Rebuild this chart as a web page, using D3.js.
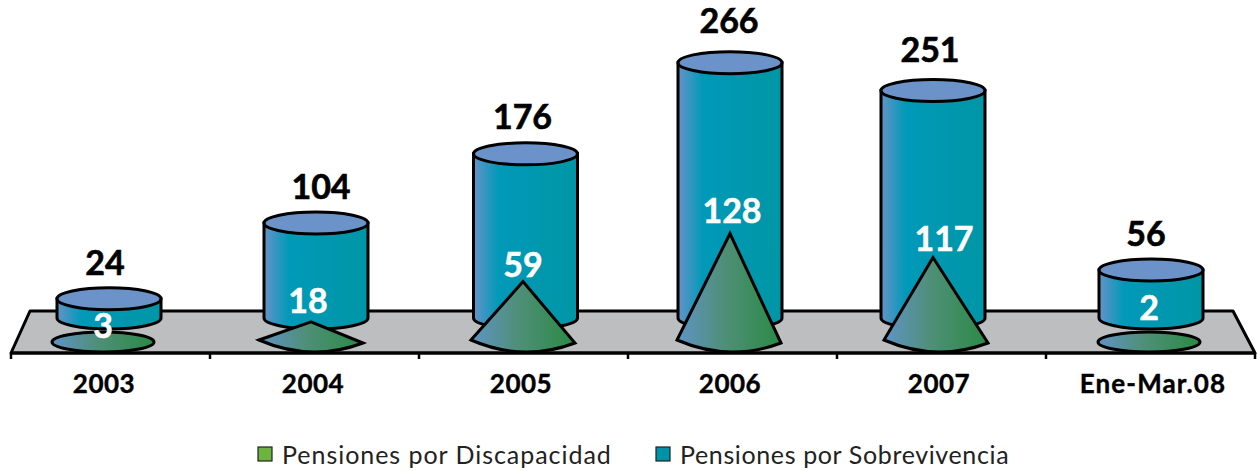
<!DOCTYPE html>
<html><head><meta charset="utf-8">
<script src="https://cdn.jsdelivr.net/npm/d3@7"></script>
<style>html,body{margin:0;padding:0;background:#fff}svg{display:block}text{font-family:Lato,sans-serif}</style>
</head><body><svg id="c" width="1258" height="471"></svg>
<script>
const categories = ["2003","2004","2005","2006","2007","Ene-Mar.08"];
// Printed labels of the reference.
const sobrevivenciaValues = [24,104,176,266,251,56];
const discapacidadValues = [3,18,59,128,117,2];
// The reference's drawn heights are not proportional to its printed labels,
// so drawn levels are read separately off the picture, in chart units.
const sobrevivenciaDrawn = [20,99,171,266,237,50];
const discapacidadDrawn = [0,21,63,113,88,0];
const legendNames = ["Pensiones por Discapacidad","Pensiones por Sobrevivencia"];

// Layout
const W=1258,H=471;
const front=353, back=311, baseCone=342, depth=24;
const rx=52, ryTop=11, coneHalf=52;
const barNudge=[3.5,1.5,2,-2.5,-8.5,0.5];
const coneNudge=[-2.5,-3.5,-0.5,-3.5,-5.5,-1.5];
const tipShift=[0,0,0,1,-3,0];
const catNudge=[-1.5,-1.5,-2.5,-2.5,-2.5,2.5];
const catSpacing=[0.5,0.5,0.5,0.5,0.5,1.1];
const blackNudge=[{x:-4,y:0},{x:5,y:0},{x:-3,y:-1},{x:-1,y:-6},{x:-3,y:-4},{x:-5,y:0}];
const whiteNudge=[{x:0,y:-4},{x:-3,y:-9},{x:0,y:-5},{x:3,y:-11},{x:8,y:-7},{x:0,y:-22}];
const legendX=[258,656], legendSpacing=[0.96,0.63];

const svg=d3.select("#c");
const x=d3.scaleBand().domain(categories).range([1,1255]).padding(0);
const y=d3.scaleLinear().domain([0,300]).range([baseCone,baseCone-288]);
const color=d3.scaleOrdinal().domain(legendNames).range(["#6cb33f","#0093a8"]);
const idx=c=>categories.indexOf(c);
const cxBar=c=>x(c)+x.bandwidth()/2+barNudge[idx(c)];
const cxCone=c=>x(c)+x.bandwidth()/2+coneNudge[idx(c)];

const defs=svg.append("defs");
const g1=defs.append("linearGradient").attr("id","gCyl");
[[0,"#6593c8"],[0.24,"#0099b8"],[1,"#0096a6"]].forEach(([o,c])=>g1.append("stop").attr("offset",o).attr("stop-color",c));
const g2=defs.append("linearGradient").attr("id","gCone");
[[0,"#5f94c6"],[0.45,"#4f8f78"],[1,"#2a8a45"]].forEach(([o,c])=>g2.append("stop").attr("offset",o).attr("stop-color",c));

// Floor
svg.append("path")
  .attr("d",d3.line()([[11,front],[30,back],[1233,back],[1255,front]])+"Z")
  .attr("fill","#bdbec0").attr("stroke","#000").attr("stroke-width",3).attr("stroke-linejoin","round");

// Axis
const axis=svg.append("g").attr("transform",`translate(0,${front})`)
  .call(d3.axisBottom(x).tickSize(0).tickPadding(22));
axis.select(".domain").remove();
axis.selectAll("text")
  .attr("font-family","Lato,sans-serif").attr("font-size",26).attr("font-weight",700).attr("fill","#000")
  .attr("stroke","#000").attr("stroke-width",0.4)
  .attr("letter-spacing",d=>catSpacing[idx(d)])
  .attr("dx",(d)=>catNudge[idx(d)]);
svg.append("line").attr("x1",11).attr("x2",1255).attr("y1",front).attr("y2",front).attr("stroke","#000").attr("stroke-width",3);
svg.selectAll(".tk").data(categories.concat(["end"])).join("line").attr("class","tk")
  .attr("x1",(d,i)=>i===0?11:(d==="end"?1255:x(d)))
  .attr("x2",(d,i)=>i===0?11:(d==="end"?1255:x(d)))
  .attr("y1",front).attr("y2",front+6).attr("stroke","#000").attr("stroke-width",2.5);

// Cylinders
const cyl=svg.append("g").selectAll("g").data(categories).join("g");
cyl.append("path").attr("d",(c,i)=>{
  const cx=cxBar(c),top=y(sobrevivenciaDrawn[i])-depth,bot=baseCone-depth;
  return `M${cx-rx},${top}L${cx-rx},${bot}A${rx},${ryTop} 0 0 0 ${cx+rx},${bot}L${cx+rx},${top}Z`;
}).attr("fill","url(#gCyl)").attr("stroke","#000").attr("stroke-width",3);
cyl.append("ellipse").attr("cx",cxBar).attr("cy",(c,i)=>y(sobrevivenciaDrawn[i])-depth)
  .attr("rx",rx).attr("ry",ryTop).attr("fill","#6b93c9").attr("stroke","#000").attr("stroke-width",3);

// Cones
svg.append("g").selectAll("path").data(categories).join("path").attr("d",(c,i)=>{
  const cx=cxCone(c);
  if(discapacidadDrawn[i]===0){
    return `M${cx-51},${baseCone}A51,10 0 1 0 ${cx+51},${baseCone}A51,10 0 1 0 ${cx-51},${baseCone}Z`;
  }
  const tip=y(discapacidadDrawn[i]);
  return `M${cx+tipShift[i]},${tip}L${cx-coneHalf},${baseCone-2}Q${cx},${baseCone+20.5} ${cx+coneHalf},${baseCone+1}Z`;
}).attr("fill","url(#gCone)").attr("stroke","#000").attr("stroke-width",3).attr("stroke-linejoin","miter");

// Value labels
svg.append("g").selectAll("text").data(categories).join("text")
  .attr("x",(c,i)=>cxBar(c)+blackNudge[i].x)
  .attr("y",(c,i)=>y(sobrevivenciaDrawn[i])-depth-24+blackNudge[i].y)
  .attr("text-anchor","middle").attr("font-size",34).attr("font-weight",700).attr("fill","#000")
  .attr("stroke","#000").attr("stroke-width",0.6)
  .text((c,i)=>sobrevivenciaValues[i]);
svg.append("g").selectAll("text").data(categories).join("text")
  .attr("x",(c,i)=>cxCone(c)+whiteNudge[i].x)
  .attr("y",(c,i)=>y(discapacidadDrawn[i])+whiteNudge[i].y)
  .attr("text-anchor","middle").attr("font-size",34).attr("font-weight",700).attr("fill","#fff")
  .attr("stroke","#fff").attr("stroke-width",0.5)
  .text((c,i)=>discapacidadValues[i]);

// Legend
const lg=svg.append("g").selectAll("g").data(legendNames).join("g").attr("transform",(d,i)=>`translate(${legendX[i]},447)`);
lg.append("rect").attr("width",14).attr("height",14).attr("fill",d=>color(d)).attr("stroke","#222").attr("stroke-width",1.2);
lg.append("text").attr("x",24).attr("y",16.5).attr("font-size",25).attr("fill","#222")
  .attr("letter-spacing",(d,i)=>legendSpacing[i]).text(d=>d);
</script></body></html>
